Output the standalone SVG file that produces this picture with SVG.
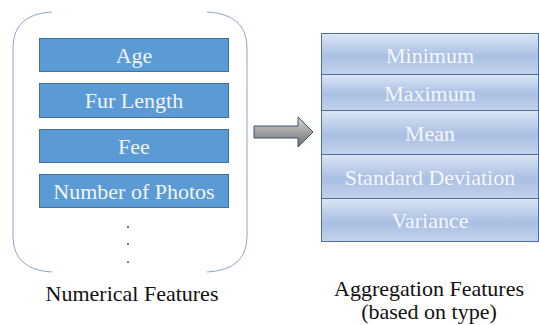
<svg xmlns="http://www.w3.org/2000/svg" width="539" height="325" viewBox="0 0 539 325">
<defs>
<linearGradient id="agg" x1="0" y1="0" x2="0" y2="1">
<stop offset="0" stop-color="#dce5f4"/>
<stop offset="0.55" stop-color="#a9bfe3"/>
<stop offset="1" stop-color="#c3d2ec"/>
</linearGradient>
<linearGradient id="arr" x1="0" y1="0" x2="0" y2="1">
<stop offset="0" stop-color="#d4d4d4"/>
<stop offset="1" stop-color="#6e6e6e"/>
</linearGradient>
</defs>
<style>
text{font-family:"Liberation Serif",serif;font-size:22px;text-anchor:middle}
.num rect{fill:#5b9bd5;stroke:#41719c;stroke-width:1}
.agg rect{fill:url(#agg);stroke:#4f6f9f;stroke-width:1}
.w{fill:#f2f4fa}
.aw{fill:#f4f7fc}
.k{fill:#111}
.br{fill:none;stroke:#8fa6c6;stroke-width:1}
</style>
<rect width="539" height="325" fill="#fff"/>
<g id="container">
<path class="br" d="M52,12 Q13,14 13,48 L13,236 Q13,270 52,272"/>
<path class="br" d="M207,12 Q247,14 247,48 L247,236 Q247,270 207,272"/>
</g>
<g id="age" class="num"><rect x="39.5" y="38.5" width="189" height="33"/><text class="w" x="134" y="63">Age</text></g>
<g id="fur" class="num"><rect x="39.5" y="83.5" width="189" height="34"/><text class="w" x="134" y="108">Fur Length</text></g>
<g id="fee" class="num"><rect x="39.5" y="129.5" width="189" height="33"/><text class="w" x="134" y="154">Fee</text></g>
<g id="photos" class="num"><rect x="39.5" y="174.5" width="189" height="33"/><text class="w" x="134" y="199">Number of Photos</text></g>
<g id="dots" fill="#333"><circle cx="128" cy="227" r="0.9"/><circle cx="128" cy="244" r="0.9"/><circle cx="128" cy="262" r="0.9"/></g>
<g id="label-numerical"><text class="k" x="132" y="301">Numerical Features</text></g>
<g id="connectors">
<path d="M254,126 L298,126 L298,117 L313,132 L298,147 L298,138 L254,138 Z" fill="url(#arr)" stroke="#3d5573" stroke-width="1"/>
</g>
<g id="minimum" class="agg"><rect x="321.5" y="33.5" width="217" height="41"/><text class="aw" x="430" y="63">Minimum</text></g>
<g id="maximum" class="agg"><rect x="321.5" y="74.5" width="217" height="36"/><text class="aw" x="430" y="101">Maximum</text></g>
<g id="mean" class="agg"><rect x="321.5" y="110.5" width="217" height="44"/><text class="aw" x="430" y="141">Mean</text></g>
<g id="std" class="agg"><rect x="321.5" y="154.5" width="217" height="44"/><text class="aw" x="430" y="185">Standard Deviation</text></g>
<g id="variance" class="agg"><rect x="321.5" y="198.5" width="217" height="43"/><text class="aw" x="430" y="228">Variance</text></g>
<g id="label-aggregation">
<text class="k" x="429" y="296">Aggregation Features</text>
<text class="k" x="429" y="319">(based on type)</text>
</g>
</svg>
